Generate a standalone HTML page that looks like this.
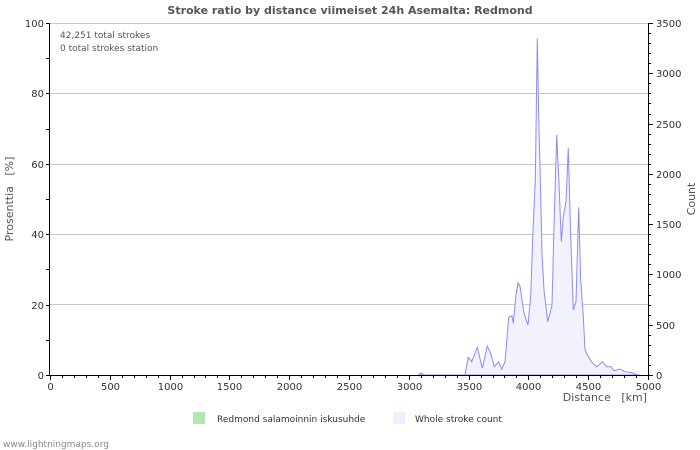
<!DOCTYPE html>
<html><head><meta charset="utf-8"><style>
body{margin:0;background:#fff;}
svg{display:block;font-family:"DejaVu Sans","Liberation Sans",sans-serif;}
</style></head><body>
<svg width="700" height="450" viewBox="0 0 700 450" xmlns="http://www.w3.org/2000/svg">
<rect width="700" height="450" fill="#fff"/>
<text x="350" y="14" text-anchor="middle" font-size="11" font-weight="bold" fill="#555">Stroke ratio by distance viimeiset 24h Asemalta: Redmond</text>
<g stroke="#c8c8c8" stroke-width="1">
<line x1="50" y1="23.5" x2="648" y2="23.5"/>
<line x1="50" y1="93.5" x2="648" y2="93.5"/>
<line x1="50" y1="164.5" x2="648" y2="164.5"/>
<line x1="50" y1="234.5" x2="648" y2="234.5"/>
<line x1="50" y1="304.5" x2="648" y2="304.5"/>
</g>
<polygon fill="#f2f2fc" stroke="#8c8cf0" stroke-width="1" points="418,375 421,373 424,375 465,375 468.3,357.3 471.7,361.7 477.3,347.3 482.3,368.3 487.3,346 490.7,353.3 494.3,366.7 498.7,361.7 501.7,369.3 505,361.7 508.7,317.3 512,316 513.3,323.3 516,295 518,282.7 520,286 524,313.3 528,325 530.7,296.7 532.7,238.3 535.3,180 537.3,38.3 538.7,116.7 540,166.7 542,253.3 544,290 547.7,321.7 550,313.3 552,305 554,226.7 556.7,135 559,183.3 561.3,241.7 563.3,216.7 566,201.7 568.3,148.3 570.7,236.7 573.3,310 576,301.7 578.7,207.3 580.7,280 583.3,316.7 585,350 588.3,356.7 592.7,363.3 596.7,366.7 602.7,361.7 606.7,366.7 611,366.7 614,370.7 620,369 625,371.7 631.7,372.7 636.7,374.7 640,375"/>
<g stroke="#000" stroke-width="1">
<line x1="49.5" y1="23" x2="49.5" y2="375"/>
<line x1="648.5" y1="23" x2="648.5" y2="375"/>
<line x1="49" y1="375.5" x2="649" y2="375.5"/>
</g>
<g id="ticks" stroke="#000" stroke-width="1"></g>
<g font-size="10" fill="#333">
<text x="44" y="379" text-anchor="end">0</text>
<text x="44" y="309" text-anchor="end">20</text>
<text x="44" y="238" text-anchor="end">40</text>
<text x="44" y="168" text-anchor="end">60</text>
<text x="44" y="97" text-anchor="end">80</text>
<text x="44" y="27" text-anchor="end">100</text>
</g>
<g id="rl" font-size="10" fill="#333"></g>
<g id="bl" font-size="10" fill="#333"></g>
<text x="60" y="38" font-size="9" fill="#555">42,251 total strokes</text>
<text x="60" y="51" font-size="9" fill="#555">0 total strokes station</text>
<text transform="translate(13,199) rotate(-90)" text-anchor="middle" font-size="11" fill="#555">Prosenttia&#160;&#160;&#160;[%]</text>
<text transform="translate(695,199) rotate(-90)" text-anchor="middle" font-size="11" fill="#555">Count</text>
<text x="647" y="401" text-anchor="end" font-size="11" fill="#555">Distance&#160;&#160;&#160;[km]</text>
<rect x="193" y="412" width="12" height="12" fill="#b4e6b4"/>
<text x="217" y="422" font-size="9" fill="#333">Redmond salamoinnin iskusuhde</text>
<rect x="393" y="412" width="12" height="12" fill="#f0f0fc"/>
<text x="415" y="422" font-size="9" fill="#333">Whole stroke count</text>
<text x="3" y="447" font-size="9" fill="#888">www.lightningmaps.org</text>
</svg>
<script>
var ns="http://www.w3.org/2000/svg",t=document.getElementById("ticks"),rl=document.getElementById("rl"),bl=document.getElementById("bl");
function ln(a,b,c,d){var l=document.createElementNS(ns,"line");l.setAttribute("x1",a);l.setAttribute("y1",b);l.setAttribute("x2",c);l.setAttribute("y2",d);t.appendChild(l);}
function tx(g,x,y,s,anc){var e=document.createElementNS(ns,"text");e.setAttribute("x",x);e.setAttribute("y",y);if(anc)e.setAttribute("text-anchor",anc);e.textContent=s;g.appendChild(e);}
for(var i=0;i<=10;i++){var y=Math.round(375-35.2*i)+0.5;ln(46,y,50,y);}
for(var i=0;i<=35;i++){var y=Math.round(375-352*i/35)+0.5;ln(648,y,i%5==0?653:651,y);if(i%5==0)tx(rl,656,y+3.5,String(i*100));}
for(var i=0;i<=50;i++){var x=Math.round(50+598*i/50)+0.5;ln(x,375,x,i%5==0?380:378);if(i%5==0)tx(bl,x,390,String(i*100),"middle");}
</script>
</body></html>
